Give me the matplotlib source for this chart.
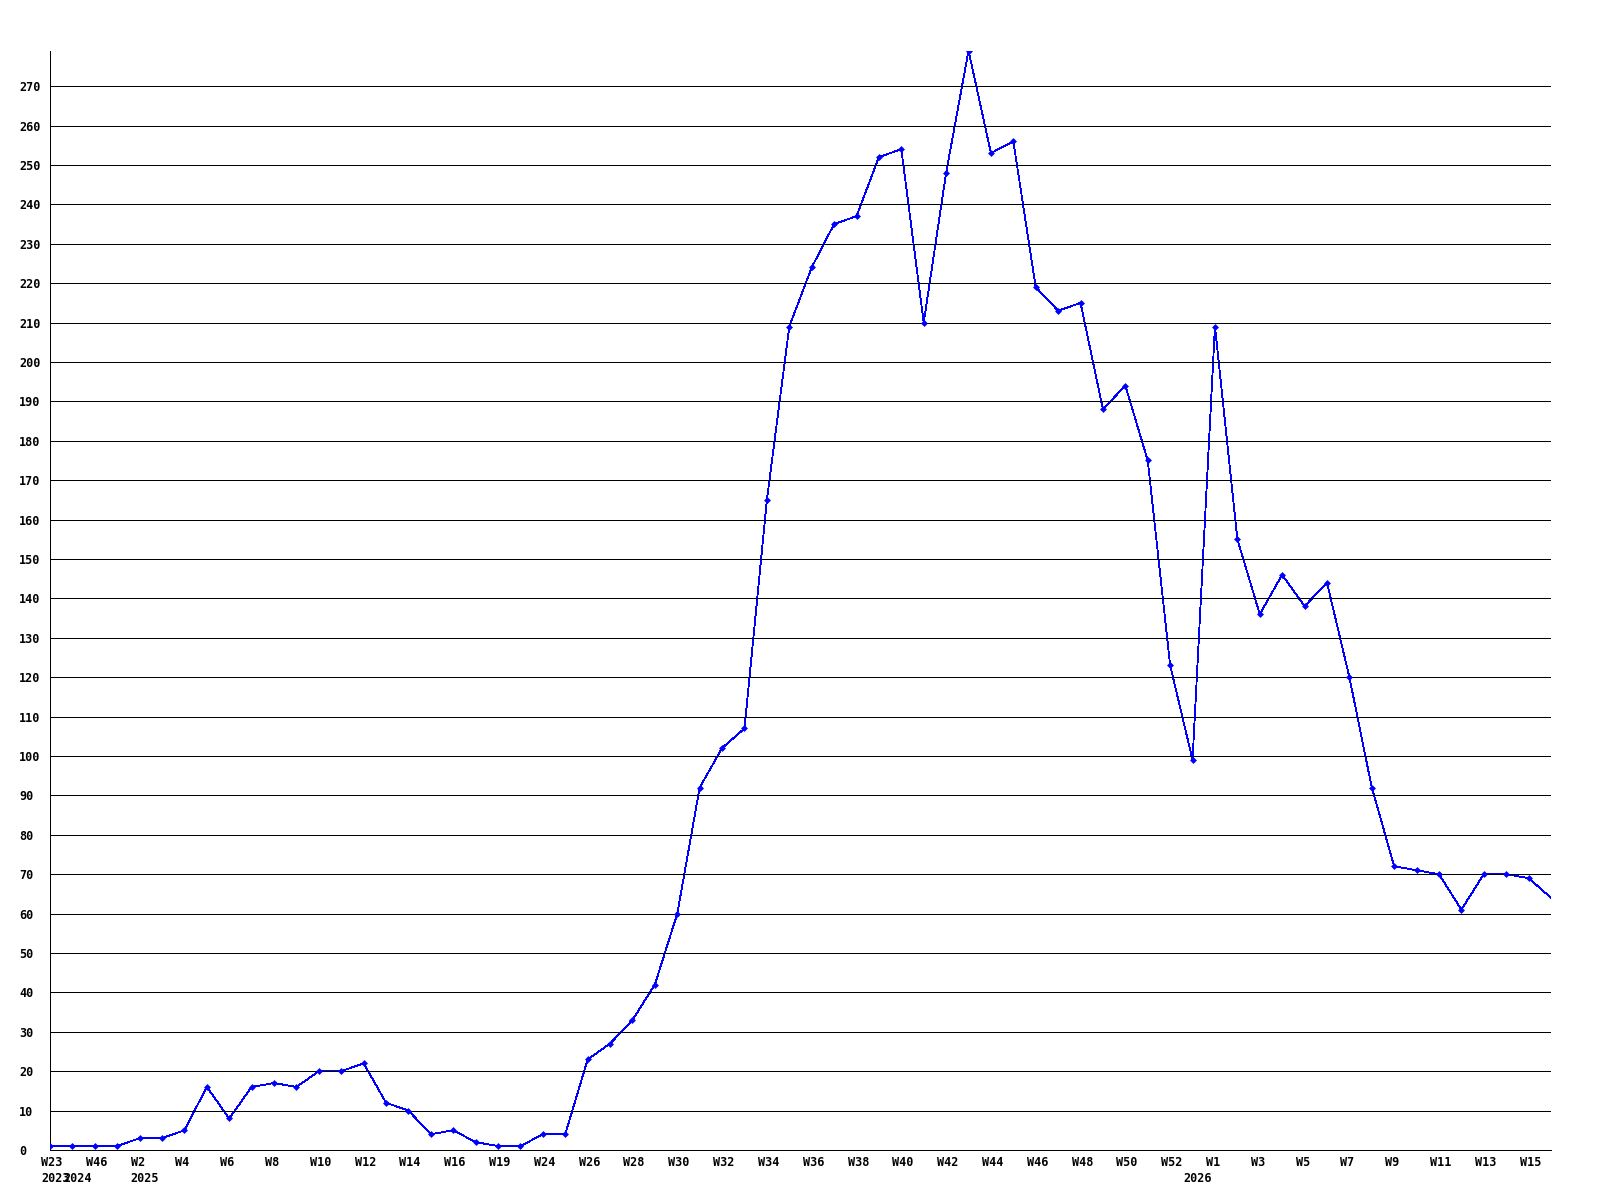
import matplotlib
matplotlib.use("Agg")
import matplotlib.pyplot as plt
from matplotlib.transforms import ScaledTranslation

# ---- data ----
weeks = (["W23", "W45", "W46", "W47"]
         + ["W%d" % w for w in range(2, 17)]
         + ["W18", "W19", "W23"]
         + ["W%d" % w for w in range(24, 53)]
         + ["W53"]
         + ["W%d" % w for w in range(1, 17)])
years = {0: "2023", 1: "2024", 4: "2025", 51: "2026"}
values = [1, 1, 1, 1, 3, 3, 5, 16, 8, 16,
          17, 16, 20, 20, 22, 12, 10, 4, 5, 2,
          1, 1, 4, 4, 23, 27, 33, 42, 60, 92,
          102, 107, 165, 209, 224, 235, 237, 252, 254, 210,
          248, 279, 253, 256, 219, 213, 215, 188, 194, 175,
          123, 99, 209, 155, 136, 146, 138, 144, 120, 92,
          72, 71, 70, 61, 70, 70, 69, 64]
yticks = list(range(0, 280, 10))

# ---- figure ----
fig = plt.figure(figsize=(16, 12), dpi=100)
W, H = 1600, 1200
ax = fig.add_axes([50 / W, 50 / H, 1501 / W, 1099.3 / H])

x = list(range(len(values)))
blue = "#0000ff"
ax.plot(x, values, color=blue, linewidth=0.6, zorder=1.5, antialiased=False)
ax.plot(x, values, linestyle="none", marker="D", markersize=3.0,
        color=blue, markeredgewidth=0.5, zorder=3,
        markevery=list(range(len(values) - 1)))

ax.set_xlim(0, len(values) - 1)
ax.set_ylim(0, max(values))

ax.set_axisbelow(False)
ax.set_yticks(yticks)
ax.yaxis.grid(True, color="black", linewidth=0.72, antialiased=False)
ax.xaxis.grid(False)

for s in ["top", "right"]:
    ax.spines[s].set_visible(False)
ax.spines["left"].set_linewidth(0.72)
ax.spines["bottom"].set_linewidth(0.72)
ax.spines["left"].set_antialiased(False)
ax.spines["bottom"].set_antialiased(False)

font = dict(family="DejaVu Sans Mono", weight="bold", size=8.5)

ax.set_yticklabels([str(v) for v in yticks], **font)
ax.tick_params(axis="y", length=0, pad=22.3)
for lab in ax.get_yticklabels():
    lab.set_horizontalalignment("left")

labels = []
for i, w in enumerate(weeks):
    top = w if i % 2 == 0 else ""
    yr = years.get(i, "")
    labels.append(top + ("\n" + yr if yr else ""))
ax.set_xticks(x)
ax.set_xticklabels(labels, **font)
ax.tick_params(axis="x", length=0, pad=4.0)
off = ScaledTranslation(-9 / 100, 0, fig.dpi_scale_trans)
for lab in ax.get_xticklabels():
    lab.set_horizontalalignment("left")
    lab.set_verticalalignment("top")
    lab.set_linespacing(1.35)
    lab.set_transform(lab.get_transform() + off)

fig.savefig("out.png", dpi=100, facecolor="white")
